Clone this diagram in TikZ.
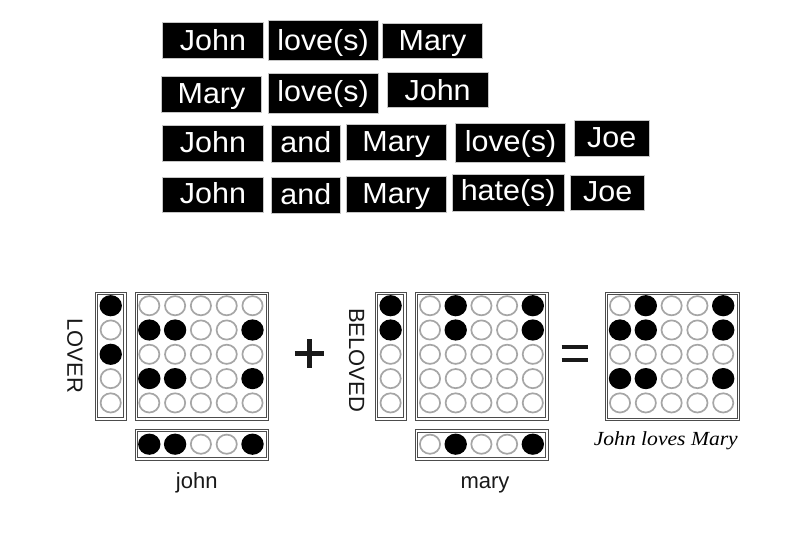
\documentclass[tikz,border=0pt]{standalone}
\usepackage{fontspec}
\setmainfont{Liberation Sans}
\newfontfamily\capfont{Liberation Serif}
\tikzset{
  wordbox/.style={fill=black, draw=gray!45, line width=0.8pt, inner sep=0pt},
  wordtext/.style={text=white, font=\fontsize{29}{29}\selectfont, anchor=base, inner sep=0pt},
  panelarea/.style={inner sep=0pt},
  panelline/.style={draw=gray!60!black, line width=0.9pt},
  fulldot/.style={fill=black},
  emptydot/.style={draw=gray!70, line width=1.7pt, fill=white},
  axislabel/.style={font=\fontsize{22}{22}\selectfont, text=black!90, inner sep=0pt},
  signbar/.style={line width=4.8pt, draw=black!90},
}
% word box: name, x1, y1, x2, y2, text, baseline offset from bottom
\newcommand\wbox[7]{%
  \node[wordbox, minimum width={#4-#2}, minimum height={#5-#3}] (#1) at ({(#2+#4)/2},{(#3+#5)/2}) {};
  \node[wordtext] (#1t) at ({(#2+#4)/2},{#5-#7}) {\scalebox{1.05}[1]{#6}};}
% panel with a double border: name, x1, y1, x2, y2
\newcommand\pbox[5]{%
  \node[panelarea, minimum width={#4-#2}, minimum height={#5-#3}] (#1) at ({(#2+#4)/2},{(#3+#5)/2}) {};
  \draw[panelline] ({#2-1.2},{#3-1.2}) rectangle ({#4+1.2},{#5+1.2});
  \draw[panelline] ({#2+1.2},{#3+1.2}) rectangle ({#4-1.2},{#5-1.2});}
% one dot: x, y, value
\newcommand\onedot[3]{%
  \ifnum#3=1
    \fill[fulldot] (#1,#2) ellipse [x radius=11.2, y radius=10.6];
  \else
    \draw[emptydot] (#1,#2) ellipse [x radius=10.1, y radius=9.6];
  \fi}
% row of dots: x0, y, dx, pattern
\newcommand\dotrow[4]{%
  \foreach \v [count=\k from 0] in {#4} {\onedot{#1+\k*#3}{#2}{\v}}}
% column of dots: x, y0, dy, pattern
\newcommand\dotcol[4]{%
  \foreach \v [count=\k from 0] in {#4} {\onedot{#1}{#2+\k*#3}{\v}}}
\begin{document}
\begin{tikzpicture}[x=1pt, y=-1pt]
\useasboundingbox (0,0) rectangle (789,545);
\fill[white] (0,0) rectangle (789,545);

% ---- sentences ----
\wbox{a1}{162.7}{22.7}{263.3}{58.3}{John}{8}
\wbox{a2}{268}{20.7}{378}{60.7}{love(s)}{10.5}
\wbox{a3}{382.3}{23.3}{482.7}{58.7}{Mary}{8.5}

\wbox{b1}{161.3}{76.5}{261.7}{112.5}{Mary}{8.5}
\wbox{b2}{268}{73.1}{378}{113.1}{love(s)}{11.5}
\wbox{b3}{387.3}{72}{488}{107.8}{John}{7.5}

\wbox{c1}{162.7}{125.7}{263.3}{161}{John}{8.7}
\wbox{c2}{271.3}{125.7}{340.3}{162}{and}{9}
\wbox{c3}{346.3}{124.9}{446.3}{160.3}{Mary}{8.5}
\wbox{c4}{455.3}{123}{565.7}{162.8}{love(s)}{11.5}
\wbox{c5}{574.3}{120.3}{649}{156}{Joe}{8.3}

\wbox{d1}{162.7}{177.3}{263.3}{212.5}{John}{8.7}
\wbox{d2}{271.3}{177.7}{340.3}{213.8}{and}{9.2}
\wbox{d3}{346.3}{176.6}{446.3}{212}{Mary}{8.7}
\wbox{d4}{452.3}{174}{564}{211.2}{hate(s)}{11}
\wbox{d5}{570.7}{175.5}{644.7}{210.8}{Joe}{9}

% ---- john panels ----
\pbox{jcol}{96.5}{293.5}{125}{419}
\pbox{jmat}{136.3}{293.5}{267.5}{419}
\pbox{jvec}{136.3}{430.7}{267.5}{458.8}
\dotcol{110.7}{305.7}{24.3}{1,0,1,0,0}
\dotrow{149.3}{305.7}{25.8}{0,0,0,0,0}
\dotrow{149.3}{330.0}{25.8}{1,1,0,0,1}
\dotrow{149.3}{354.3}{25.8}{0,0,0,0,0}
\dotrow{149.3}{378.6}{25.8}{1,1,0,0,1}
\dotrow{149.3}{402.9}{25.8}{0,0,0,0,0}
\dotrow{149.3}{444.2}{25.8}{1,1,0,0,1}
\node[axislabel, rotate=-90] (lover) at (75,355.8) {LOVER};
\node[axislabel, anchor=base] (john) at (196.7,488) {john};

% plus
\coordinate (pl) at (294.8,353.3);
\coordinate (pr) at (323.6,353.3);
\coordinate (pt) at (309.2,339.0);
\coordinate (pb) at (309.2,367.6);
\draw[signbar] (pl) -- (pr);
\draw[signbar] (pt) -- (pb);

% ---- mary panels ----
\pbox{mcol}{376.3}{293.5}{404.8}{419}
\pbox{mmat}{416.3}{293.5}{547}{419}
\pbox{mvec}{416.3}{431}{547}{458.8}
\dotcol{390.6}{305.7}{24.3}{1,1,0,0,0}
\dotrow{430}{305.7}{25.7}{0,1,0,0,1}
\dotrow{430}{330.0}{25.7}{0,1,0,0,1}
\dotrow{430}{354.3}{25.7}{0,0,0,0,0}
\dotrow{430}{378.6}{25.7}{0,0,0,0,0}
\dotrow{430}{402.9}{25.7}{0,0,0,0,0}
\dotrow{430}{444.2}{25.7}{0,1,0,0,1}
\node[axislabel, rotate=-90] (beloved) at (356.7,360) {BELOVED};
\node[axislabel, anchor=base] (mary) at (485,488.3) {mary};

% equals
\coordinate (e1l) at (561.7,346.7);
\coordinate (e1r) at (588.3,346.7);
\coordinate (e2l) at (561.7,360.2);
\coordinate (e2r) at (588.3,360.2);
\draw[signbar, line width=4.3pt] (e1l) -- (e1r);
\draw[signbar, line width=4.3pt] (e2l) -- (e2r);

% ---- result ----
\pbox{res}{606.3}{293.5}{738.7}{419.5}
\dotrow{620}{305.7}{25.8}{0,1,0,0,1}
\dotrow{620}{330.0}{25.8}{1,1,0,0,1}
\dotrow{620}{354.3}{25.8}{0,0,0,0,0}
\dotrow{620}{378.6}{25.8}{1,1,0,0,1}
\dotrow{620}{402.9}{25.8}{0,0,0,0,0}
\node[inner sep=0pt, anchor=base, text=black, font=\capfont\itshape\fontsize{20}{20}\selectfont] (cap) at (665.8,445) {\scalebox{1.08}[1]{John loves Mary}};
\end{tikzpicture}
\end{document}
